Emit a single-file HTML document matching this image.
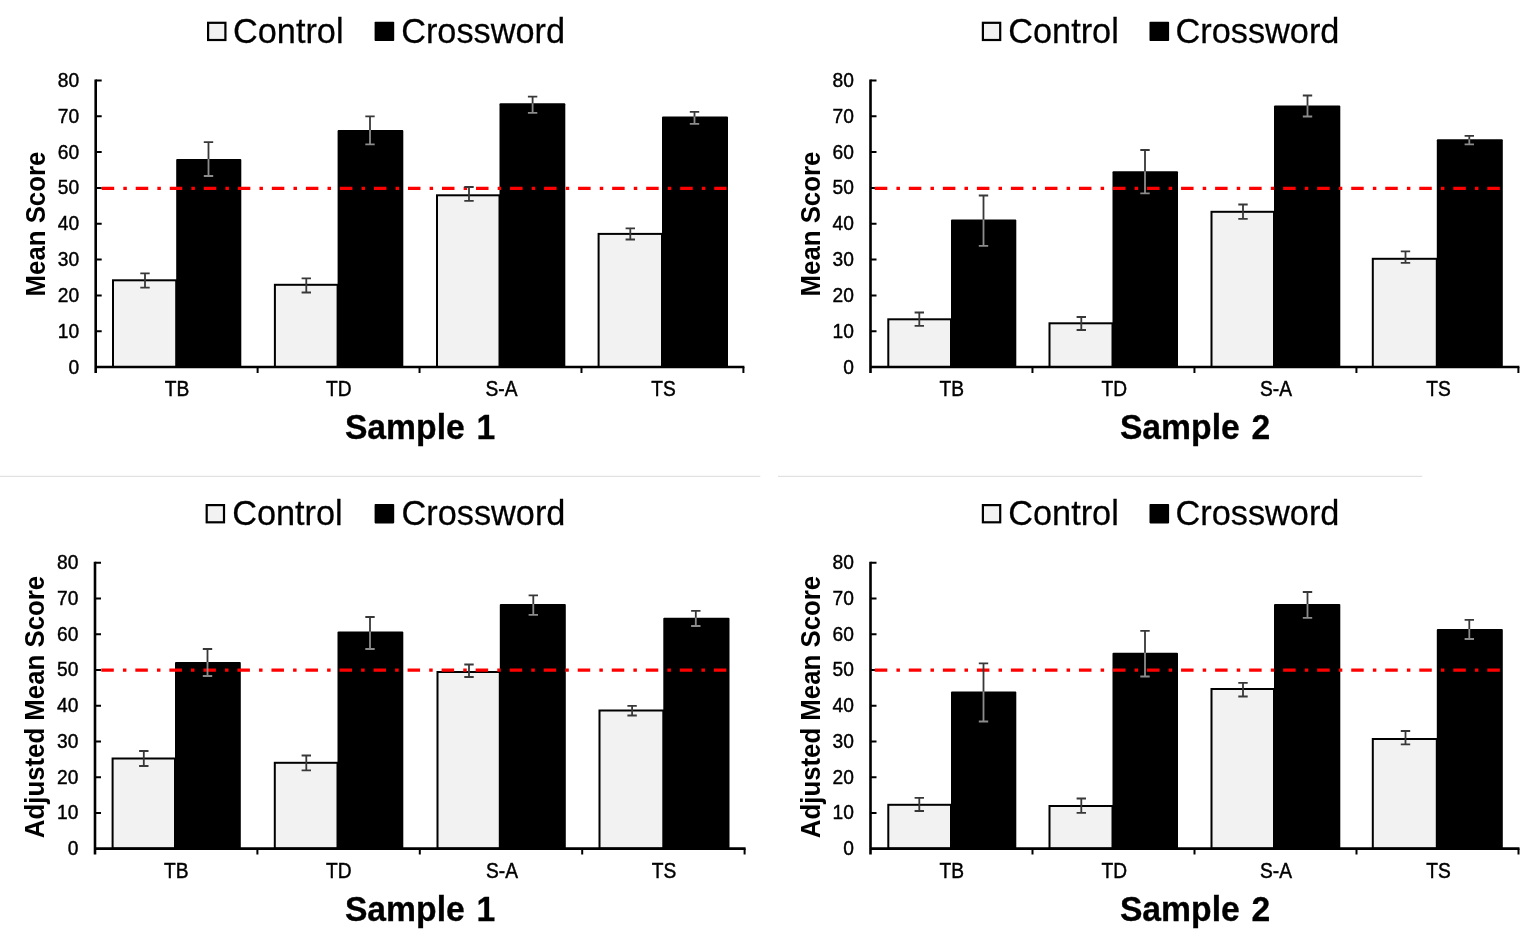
<!DOCTYPE html>
<html lang="en">
<head>
<meta charset="utf-8">
<title>Mean scores by sample: Control vs Crossword</title>
<style>
html,body{margin:0;padding:0;background:#fff;}
body{width:1535px;height:948px;overflow:hidden;font-family:"Liberation Sans",sans-serif;}
main,figure{margin:0;padding:0;display:block;}
svg{display:block;}
text{font-family:"Liberation Sans",sans-serif;fill:#000;}
.tick{font-size:19.2px;stroke:#000;stroke-width:0.4px;}
.leg{font-size:34.3px;stroke:#000;stroke-width:0.25px;}
.title{font-size:33.7px;font-weight:bold;word-spacing:2.4px;stroke:#000;stroke-width:0.3px;}
.yl{font-size:25.8px;font-weight:bold;}
</style>
</head>
<body>
<main>
<figure>
<svg width="1535" height="948" viewBox="0 0 1535 948">
<rect width="1535" height="948" fill="#fff"/>
<rect x="0" y="475.8" width="760.3" height="1.1" fill="#dedede"/>
<rect x="778" y="475.8" width="644.3" height="1.1" fill="#dedede"/>
<g class="chart" id="c1">
<rect x="208.1" y="22.8" width="17.3" height="17.2" fill="#f2f2f2" stroke="#000" stroke-width="2.2"/>
<text class="leg" transform="translate(233 42.8) scale(1 1.03)">Control</text>
<rect x="374.6" y="21.7" width="19.6" height="19.4" fill="#000" rx="0.8"/>
<text class="leg" transform="translate(401.2 42.8) scale(1 1.03)">Crossword</text>
<rect x="113" y="280.3" width="63.2" height="86.7" fill="#f2f2f2" stroke="#000" stroke-width="2.0"/>
<rect x="176.2" y="158.9" width="65.1" height="208.1" fill="#000" rx="1"/>
<rect x="274.9" y="284.8" width="62.7" height="82.2" fill="#f2f2f2" stroke="#000" stroke-width="2.0"/>
<rect x="337.6" y="130" width="65.7" height="237" fill="#000" rx="1"/>
<rect x="437" y="195.3" width="62.5" height="171.7" fill="#f2f2f2" stroke="#000" stroke-width="2.0"/>
<rect x="499.5" y="103.2" width="65.8" height="263.8" fill="#000" rx="1"/>
<rect x="598.6" y="233.9" width="63.4" height="133.1" fill="#f2f2f2" stroke="#000" stroke-width="2.0"/>
<rect x="662" y="116.5" width="66" height="250.5" fill="#000" rx="1"/>
<path d="M95.7 79.4V373M95.7 367H744.4" fill="none" stroke="#000" stroke-width="2.6"/>
<path d="M95.7 331.19h6M95.7 295.38h6M95.7 259.56h6M95.7 223.75h6M95.7 187.94h6M95.7 152.12h6M95.7 116.31h6M95.7 80.5h6M257.62 367v6M419.55 367v6M581.48 367v6M743.4 367v6" fill="none" stroke="#000" stroke-width="2"/>
<path d="M101.7 188.3H726.5" fill="none" stroke="#ff0000" stroke-width="3.2" stroke-dasharray="12.5 9.13 3.5 8.9"/>
<path d="M145 273.3V287.7M140.3 273.3h9.4M140.3 287.7h9.4" fill="none" stroke="#383838" stroke-width="1.8"/>
<path d="M208.5 158.9V176M203.8 176h9.4" fill="none" stroke="#8c8c8c" stroke-width="1.8"/>
<path d="M208.5 142.2V158.9M203.8 142.2h9.4" fill="none" stroke="#383838" stroke-width="1.8"/>
<path d="M306.3 278.3V292.5M301.6 278.3h9.4M301.6 292.5h9.4" fill="none" stroke="#383838" stroke-width="1.8"/>
<path d="M370 130V144.3M365.3 144.3h9.4" fill="none" stroke="#8c8c8c" stroke-width="1.8"/>
<path d="M370 116.3V130M365.3 116.3h9.4" fill="none" stroke="#383838" stroke-width="1.8"/>
<path d="M469 187V200.8M464.3 187h9.4M464.3 200.8h9.4" fill="none" stroke="#383838" stroke-width="1.8"/>
<path d="M532.6 103.2V112.8M527.9 112.8h9.4" fill="none" stroke="#8c8c8c" stroke-width="1.8"/>
<path d="M532.6 96.6V103.2M527.9 96.6h9.4" fill="none" stroke="#383838" stroke-width="1.8"/>
<path d="M630.3 228.3V239.5M625.6 228.3h9.4M625.6 239.5h9.4" fill="none" stroke="#383838" stroke-width="1.8"/>
<path d="M694.5 116.5V123.8M689.8 123.8h9.4" fill="none" stroke="#8c8c8c" stroke-width="1.8"/>
<path d="M694.5 111.8V116.5M689.8 111.8h9.4" fill="none" stroke="#383838" stroke-width="1.8"/>
<text class="tick" text-anchor="end" transform="translate(79.1 373.5) scale(1 1.08)">0</text>
<text class="tick" text-anchor="end" transform="translate(79.1 337.69) scale(1 1.08)">10</text>
<text class="tick" text-anchor="end" transform="translate(79.1 301.88) scale(1 1.08)">20</text>
<text class="tick" text-anchor="end" transform="translate(79.1 266.06) scale(1 1.08)">30</text>
<text class="tick" text-anchor="end" transform="translate(79.1 230.25) scale(1 1.08)">40</text>
<text class="tick" text-anchor="end" transform="translate(79.1 194.44) scale(1 1.08)">50</text>
<text class="tick" text-anchor="end" transform="translate(79.1 158.62) scale(1 1.08)">60</text>
<text class="tick" text-anchor="end" transform="translate(79.1 122.81) scale(1 1.08)">70</text>
<text class="tick" text-anchor="end" transform="translate(79.1 87) scale(1 1.08)">80</text>
<text class="tick" text-anchor="middle" transform="translate(177 395.6) scale(1 1.11)">TB</text>
<text class="tick" text-anchor="middle" transform="translate(338.8 395.6) scale(1 1.11)">TD</text>
<text class="tick" text-anchor="middle" transform="translate(501.5 395.6) scale(1 1.11)">S-A</text>
<text class="tick" text-anchor="middle" transform="translate(663.5 395.6) scale(1 1.11)">TS</text>
<text class="title" transform="translate(344.9 439.3) scale(1 1.045)">Sample 1</text>
<text class="yl" text-anchor="middle" transform="translate(44.8 224.05) rotate(-90) scale(1 1.04)">Mean Score</text>
</g>
<g class="chart" id="c2">
<rect x="982.9" y="22.8" width="17.3" height="17.2" fill="#f2f2f2" stroke="#000" stroke-width="2.2"/>
<text class="leg" transform="translate(1008.3 42.8) scale(1 1.03)">Control</text>
<rect x="1149.5" y="21.7" width="19.6" height="19.4" fill="#000" rx="0.8"/>
<text class="leg" transform="translate(1175.6 42.8) scale(1 1.03)">Crossword</text>
<rect x="888.3" y="319.3" width="62.7" height="47.7" fill="#f2f2f2" stroke="#000" stroke-width="2.0"/>
<rect x="951" y="219.5" width="65.3" height="147.5" fill="#000" rx="1"/>
<rect x="1049.5" y="323.3" width="63" height="43.7" fill="#f2f2f2" stroke="#000" stroke-width="2.0"/>
<rect x="1112.5" y="171.3" width="65.5" height="195.7" fill="#000" rx="1"/>
<rect x="1211.5" y="211.8" width="62.5" height="155.2" fill="#f2f2f2" stroke="#000" stroke-width="2.0"/>
<rect x="1274" y="105.5" width="66.3" height="261.5" fill="#000" rx="1"/>
<rect x="1372.8" y="258.8" width="64" height="108.2" fill="#f2f2f2" stroke="#000" stroke-width="2.0"/>
<rect x="1436.8" y="139.3" width="66" height="227.7" fill="#000" rx="1"/>
<path d="M870.5 79.4V373M870.5 367H1519.4" fill="none" stroke="#000" stroke-width="2.6"/>
<path d="M870.5 331.19h6M870.5 295.38h6M870.5 259.56h6M870.5 223.75h6M870.5 187.94h6M870.5 152.12h6M870.5 116.31h6M870.5 80.5h6M1032.47 367v6M1194.45 367v6M1356.43 367v6M1518.4 367v6" fill="none" stroke="#000" stroke-width="2"/>
<path d="M874.8 188.3H1499.8" fill="none" stroke="#ff0000" stroke-width="3.2" stroke-dasharray="12.5 9.13 3.5 8.9"/>
<path d="M919.3 312.5V325.8M914.6 312.5h9.4M914.6 325.8h9.4" fill="none" stroke="#383838" stroke-width="1.8"/>
<path d="M983.5 219.5V245.8M978.8 245.8h9.4" fill="none" stroke="#8c8c8c" stroke-width="1.8"/>
<path d="M983.5 195.5V219.5M978.8 195.5h9.4" fill="none" stroke="#383838" stroke-width="1.8"/>
<path d="M1081.3 317V330M1076.6 317h9.4M1076.6 330h9.4" fill="none" stroke="#383838" stroke-width="1.8"/>
<path d="M1145 171.3V193.3M1140.3 193.3h9.4" fill="none" stroke="#8c8c8c" stroke-width="1.8"/>
<path d="M1145 150V171.3M1140.3 150h9.4" fill="none" stroke="#383838" stroke-width="1.8"/>
<path d="M1243 204.5V218.8M1238.3 204.5h9.4M1238.3 218.8h9.4" fill="none" stroke="#383838" stroke-width="1.8"/>
<path d="M1307.5 105.5V116.5M1302.8 116.5h9.4" fill="none" stroke="#8c8c8c" stroke-width="1.8"/>
<path d="M1307.5 95.5V105.5M1302.8 95.5h9.4" fill="none" stroke="#383838" stroke-width="1.8"/>
<path d="M1405.5 251.3V262.8M1400.8 251.3h9.4M1400.8 262.8h9.4" fill="none" stroke="#383838" stroke-width="1.8"/>
<path d="M1469.3 139.3V144.3M1464.6 144.3h9.4" fill="none" stroke="#8c8c8c" stroke-width="1.8"/>
<path d="M1469.3 135.8V139.3M1464.6 135.8h9.4" fill="none" stroke="#383838" stroke-width="1.8"/>
<text class="tick" text-anchor="end" transform="translate(853.9 373.5) scale(1 1.08)">0</text>
<text class="tick" text-anchor="end" transform="translate(853.9 337.69) scale(1 1.08)">10</text>
<text class="tick" text-anchor="end" transform="translate(853.9 301.88) scale(1 1.08)">20</text>
<text class="tick" text-anchor="end" transform="translate(853.9 266.06) scale(1 1.08)">30</text>
<text class="tick" text-anchor="end" transform="translate(853.9 230.25) scale(1 1.08)">40</text>
<text class="tick" text-anchor="end" transform="translate(853.9 194.44) scale(1 1.08)">50</text>
<text class="tick" text-anchor="end" transform="translate(853.9 158.62) scale(1 1.08)">60</text>
<text class="tick" text-anchor="end" transform="translate(853.9 122.81) scale(1 1.08)">70</text>
<text class="tick" text-anchor="end" transform="translate(853.9 87) scale(1 1.08)">80</text>
<text class="tick" text-anchor="middle" transform="translate(951.8 395.6) scale(1 1.11)">TB</text>
<text class="tick" text-anchor="middle" transform="translate(1114.3 395.6) scale(1 1.11)">TD</text>
<text class="tick" text-anchor="middle" transform="translate(1276 395.6) scale(1 1.11)">S-A</text>
<text class="tick" text-anchor="middle" transform="translate(1438.5 395.6) scale(1 1.11)">TS</text>
<text class="title" transform="translate(1119.9 439.3) scale(1 1.045)">Sample 2</text>
<text class="yl" text-anchor="middle" transform="translate(819.8 224.05) rotate(-90) scale(1 1.04)">Mean Score</text>
</g>
<g class="chart" id="c3">
<rect x="206.7" y="505.1" width="17.3" height="17.2" fill="#f2f2f2" stroke="#000" stroke-width="2.2"/>
<text class="leg" transform="translate(232.2 525.1) scale(1 1.03)">Control</text>
<rect x="374.6" y="504" width="19.6" height="19.4" fill="#000" rx="0.8"/>
<text class="leg" transform="translate(401.6 525.1) scale(1 1.03)">Crossword</text>
<rect x="112.6" y="758.5" width="62.4" height="90.1" fill="#f2f2f2" stroke="#000" stroke-width="2.0"/>
<rect x="175" y="662" width="65.8" height="186.6" fill="#000" rx="1"/>
<rect x="274.8" y="762.8" width="62.7" height="85.8" fill="#f2f2f2" stroke="#000" stroke-width="2.0"/>
<rect x="337.5" y="631.5" width="65.8" height="217.1" fill="#000" rx="1"/>
<rect x="437.5" y="672" width="62.3" height="176.6" fill="#f2f2f2" stroke="#000" stroke-width="2.0"/>
<rect x="499.8" y="604" width="66" height="244.6" fill="#000" rx="1"/>
<rect x="599.5" y="710.5" width="63.8" height="138.1" fill="#f2f2f2" stroke="#000" stroke-width="2.0"/>
<rect x="663.3" y="617.8" width="66.2" height="230.8" fill="#000" rx="1"/>
<path d="M95 561.7V854.6M95 848.6H745.6" fill="none" stroke="#000" stroke-width="2.6"/>
<path d="M95 812.88h6M95 777.15h6M95 741.42h6M95 705.7h6M95 669.97h6M95 634.25h6M95 598.52h6M95 562.8h6M257.4 848.6v6M419.8 848.6v6M582.2 848.6v6M744.6 848.6v6" fill="none" stroke="#000" stroke-width="2"/>
<path d="M101.3 670.2H726.5" fill="none" stroke="#ff0000" stroke-width="3.2" stroke-dasharray="12.5 9.13 3.5 8.9"/>
<path d="M143.8 751V766M139.1 751h9.4M139.1 766h9.4" fill="none" stroke="#383838" stroke-width="1.8"/>
<path d="M207.5 662V676M202.8 676h9.4" fill="none" stroke="#8c8c8c" stroke-width="1.8"/>
<path d="M207.5 649V662M202.8 649h9.4" fill="none" stroke="#383838" stroke-width="1.8"/>
<path d="M306.3 755.5V770.3M301.6 755.5h9.4M301.6 770.3h9.4" fill="none" stroke="#383838" stroke-width="1.8"/>
<path d="M370 631.5V649M365.3 649h9.4" fill="none" stroke="#8c8c8c" stroke-width="1.8"/>
<path d="M370 617V631.5M365.3 617h9.4" fill="none" stroke="#383838" stroke-width="1.8"/>
<path d="M469 664.5V677M464.3 664.5h9.4M464.3 677h9.4" fill="none" stroke="#383838" stroke-width="1.8"/>
<path d="M533.3 604V614.8M528.6 614.8h9.4" fill="none" stroke="#8c8c8c" stroke-width="1.8"/>
<path d="M533.3 595.3V604M528.6 595.3h9.4" fill="none" stroke="#383838" stroke-width="1.8"/>
<path d="M632.1 705.8V715.5M627.4 705.8h9.4M627.4 715.5h9.4" fill="none" stroke="#383838" stroke-width="1.8"/>
<path d="M695.8 617.8V626M691.1 626h9.4" fill="none" stroke="#8c8c8c" stroke-width="1.8"/>
<path d="M695.8 610.8V617.8M691.1 610.8h9.4" fill="none" stroke="#383838" stroke-width="1.8"/>
<text class="tick" text-anchor="end" transform="translate(78.4 855.1) scale(1 1.08)">0</text>
<text class="tick" text-anchor="end" transform="translate(78.4 819.38) scale(1 1.08)">10</text>
<text class="tick" text-anchor="end" transform="translate(78.4 783.65) scale(1 1.08)">20</text>
<text class="tick" text-anchor="end" transform="translate(78.4 747.92) scale(1 1.08)">30</text>
<text class="tick" text-anchor="end" transform="translate(78.4 712.2) scale(1 1.08)">40</text>
<text class="tick" text-anchor="end" transform="translate(78.4 676.47) scale(1 1.08)">50</text>
<text class="tick" text-anchor="end" transform="translate(78.4 640.75) scale(1 1.08)">60</text>
<text class="tick" text-anchor="end" transform="translate(78.4 605.02) scale(1 1.08)">70</text>
<text class="tick" text-anchor="end" transform="translate(78.4 569.3) scale(1 1.08)">80</text>
<text class="tick" text-anchor="middle" transform="translate(176.3 878) scale(1 1.11)">TB</text>
<text class="tick" text-anchor="middle" transform="translate(338.8 878) scale(1 1.11)">TD</text>
<text class="tick" text-anchor="middle" transform="translate(502 878) scale(1 1.11)">S-A</text>
<text class="tick" text-anchor="middle" transform="translate(664 878) scale(1 1.11)">TS</text>
<text class="title" transform="translate(344.9 921.1) scale(1 1.045)">Sample 1</text>
<text class="yl" text-anchor="middle" transform="translate(44.3 707) rotate(-90) scale(1 1.04)">Adjusted Mean Score</text>
</g>
<g class="chart" id="c4">
<rect x="982.9" y="505.1" width="17.3" height="17.2" fill="#f2f2f2" stroke="#000" stroke-width="2.2"/>
<text class="leg" transform="translate(1008.3 525.1) scale(1 1.03)">Control</text>
<rect x="1149.5" y="504" width="19.6" height="19.4" fill="#000" rx="0.8"/>
<text class="leg" transform="translate(1175.6 525.1) scale(1 1.03)">Crossword</text>
<rect x="888.3" y="804.8" width="62.7" height="43.8" fill="#f2f2f2" stroke="#000" stroke-width="2.0"/>
<rect x="951" y="691.5" width="65.3" height="157.1" fill="#000" rx="1"/>
<rect x="1049.5" y="806" width="63" height="42.6" fill="#f2f2f2" stroke="#000" stroke-width="2.0"/>
<rect x="1112.5" y="652.8" width="65.5" height="195.8" fill="#000" rx="1"/>
<rect x="1211.5" y="689" width="62.5" height="159.6" fill="#f2f2f2" stroke="#000" stroke-width="2.0"/>
<rect x="1274" y="604" width="66.3" height="244.6" fill="#000" rx="1"/>
<rect x="1372.8" y="739" width="64" height="109.6" fill="#f2f2f2" stroke="#000" stroke-width="2.0"/>
<rect x="1436.8" y="629" width="66" height="219.6" fill="#000" rx="1"/>
<path d="M870.5 561.7V854.6M870.5 848.6H1519.5" fill="none" stroke="#000" stroke-width="2.6"/>
<path d="M870.5 812.88h6M870.5 777.15h6M870.5 741.42h6M870.5 705.7h6M870.5 669.97h6M870.5 634.25h6M870.5 598.52h6M870.5 562.8h6M1032.5 848.6v6M1194.5 848.6v6M1356.5 848.6v6M1518.5 848.6v6" fill="none" stroke="#000" stroke-width="2"/>
<path d="M874.8 670.2H1499.8" fill="none" stroke="#ff0000" stroke-width="3.2" stroke-dasharray="12.5 9.13 3.5 8.9"/>
<path d="M919.3 797.8V811M914.6 797.8h9.4M914.6 811h9.4" fill="none" stroke="#383838" stroke-width="1.8"/>
<path d="M983.5 691.5V721.5M978.8 721.5h9.4" fill="none" stroke="#8c8c8c" stroke-width="1.8"/>
<path d="M983.5 663.3V691.5M978.8 663.3h9.4" fill="none" stroke="#383838" stroke-width="1.8"/>
<path d="M1081.3 798.5V812.8M1076.6 798.5h9.4M1076.6 812.8h9.4" fill="none" stroke="#383838" stroke-width="1.8"/>
<path d="M1145 652.8V676.5M1140.3 676.5h9.4" fill="none" stroke="#8c8c8c" stroke-width="1.8"/>
<path d="M1145 630.8V652.8M1140.3 630.8h9.4" fill="none" stroke="#383838" stroke-width="1.8"/>
<path d="M1243 682.8V696.5M1238.3 682.8h9.4M1238.3 696.5h9.4" fill="none" stroke="#383838" stroke-width="1.8"/>
<path d="M1307.5 604V617.8M1302.8 617.8h9.4" fill="none" stroke="#8c8c8c" stroke-width="1.8"/>
<path d="M1307.5 592V604M1302.8 592h9.4" fill="none" stroke="#383838" stroke-width="1.8"/>
<path d="M1405.5 731V744.3M1400.8 731h9.4M1400.8 744.3h9.4" fill="none" stroke="#383838" stroke-width="1.8"/>
<path d="M1469.3 629V639M1464.6 639h9.4" fill="none" stroke="#8c8c8c" stroke-width="1.8"/>
<path d="M1469.3 619.8V629M1464.6 619.8h9.4" fill="none" stroke="#383838" stroke-width="1.8"/>
<text class="tick" text-anchor="end" transform="translate(853.9 855.1) scale(1 1.08)">0</text>
<text class="tick" text-anchor="end" transform="translate(853.9 819.38) scale(1 1.08)">10</text>
<text class="tick" text-anchor="end" transform="translate(853.9 783.65) scale(1 1.08)">20</text>
<text class="tick" text-anchor="end" transform="translate(853.9 747.92) scale(1 1.08)">30</text>
<text class="tick" text-anchor="end" transform="translate(853.9 712.2) scale(1 1.08)">40</text>
<text class="tick" text-anchor="end" transform="translate(853.9 676.47) scale(1 1.08)">50</text>
<text class="tick" text-anchor="end" transform="translate(853.9 640.75) scale(1 1.08)">60</text>
<text class="tick" text-anchor="end" transform="translate(853.9 605.02) scale(1 1.08)">70</text>
<text class="tick" text-anchor="end" transform="translate(853.9 569.3) scale(1 1.08)">80</text>
<text class="tick" text-anchor="middle" transform="translate(951.8 878) scale(1 1.11)">TB</text>
<text class="tick" text-anchor="middle" transform="translate(1114.3 878) scale(1 1.11)">TD</text>
<text class="tick" text-anchor="middle" transform="translate(1276 878) scale(1 1.11)">S-A</text>
<text class="tick" text-anchor="middle" transform="translate(1438.5 878) scale(1 1.11)">TS</text>
<text class="title" transform="translate(1119.9 921.1) scale(1 1.045)">Sample 2</text>
<text class="yl" text-anchor="middle" transform="translate(820 707) rotate(-90) scale(1 1.04)">Adjusted Mean Score</text>
</g>
</svg>
</figure>
</main>
</body>
</html>
